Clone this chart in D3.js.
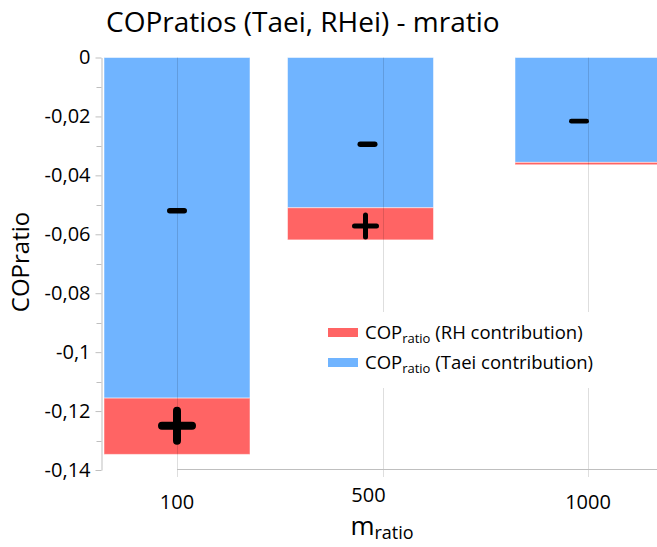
<!DOCTYPE html>
<html>
<head>
<meta charset="utf-8">
<script src="https://cdn.jsdelivr.net/npm/d3@7"></script>
<style>
  html, body { margin: 0; padding: 0; background: #fff; }
  svg { display: block; font-family: "Open Sans", sans-serif; }
</style>
</head>
<body>
<div id="chart"></div>
<script>
// values
var categories = ["100", "500", "1000"];
var taeiContribution = [-0.1156, -0.0510, -0.0356];   // blue part, from 0 down
var rhContribution = [-0.0191, -0.0109, -0.0008];     // red part, stacked under the blue
var minusSignAt = [-0.0520, -0.0294, -0.0216];
var plusSignAt = [-0.1250, -0.0572, null];
var yTicks = [0, -0.02, -0.04, -0.06, -0.08, -0.1, -0.12, -0.14];
var yMinorTicks = [-0.01, -0.03, -0.05, -0.07, -0.09, -0.11, -0.13];

var width = 657, height = 547;
var blue = "#70b4ff", red = "#ff6464";
var gridColor = "rgba(0,0,0,0.13)", axisColor = "#bfbfbf";

// hand placed nudges seen in the picture (the 500 column sits off its tick)
var barWidth = 146;
var barShift = [0, -22, 0];
var minusShift = [0, -15, -9];
var plusShift = [0, -17, 0];
var minusLen = [20, 20, 20], minusWeight = [5.5, 5.5, 4.6];
var plusLen = [38, 27, 0], plusWeight = [8, 5, 0];
var labelShift = [[0, 0], [-14, -7], [0, 0]];

var svg = d3.select("#chart").append("svg")
    .attr("width", width)
    .attr("height", height);

var x = d3.scalePoint().domain(categories).range([177, 588]);
var y = d3.scaleLinear().domain([-0.14, 0]).range([470, 57.5]);

var fmt = function(d) { return d === 0 ? "0" : String(+d.toFixed(2)).replace(".", ","); };

// bars
var rows = categories.map(function(c, i) {
  return { cat: c, i: i, taei: taeiContribution[i], rh: rhContribution[i] };
});

svg.append("g").selectAll("rect.taei").data(rows).join("rect")
    .attr("class", "taei")
    .attr("x", function(d) { return x(d.cat) - barWidth / 2 + barShift[d.i]; })
    .attr("y", y(0))
    .attr("width", barWidth)
    .attr("height", function(d) { return y(d.taei) - y(0); })
    .attr("fill", blue)
    .attr("stroke", "rgba(255,255,255,0.5)")
    .attr("stroke-width", 1);

svg.append("g").selectAll("rect.rh").data(rows).join("rect")
    .attr("class", "rh")
    .attr("x", function(d) { return x(d.cat) - barWidth / 2 + barShift[d.i]; })
    .attr("y", function(d) { return y(d.taei); })
    .attr("width", barWidth)
    .attr("height", function(d) { return y(d.taei + d.rh) - y(d.taei); })
    .attr("fill", red)
    .attr("stroke", "rgba(255,255,255,0.5)")
    .attr("stroke-width", 1);

// vertical grid lines, drawn on top of the bars
svg.append("g").selectAll("line").data(categories).join("line")
    .attr("x1", function(d) { return Math.round(x(d)) + 0.5; })
    .attr("x2", function(d) { return Math.round(x(d)) + 0.5; })
    .attr("y1", y(0))
    .attr("y2", y(-0.14) + 7)
    .attr("stroke", gridColor)
    .attr("stroke-width", 1);

// y axis
var yAxis = svg.append("g")
    .attr("transform", "translate(101.5,0)")
    .call(d3.axisLeft(y).tickValues(yTicks).tickFormat(fmt).tickSize(6).tickSizeOuter(0).tickPadding(5));
yAxis.select(".domain").attr("stroke", axisColor);
yAxis.selectAll(".tick line").attr("stroke", axisColor);
yAxis.selectAll(".tick text")
    .attr("fill", "#000")
    .style("font-size", "20px")
    .style("font-family", "'Open Sans', sans-serif");
yAxis.append("g").selectAll("line").data(yMinorTicks).join("line")
    .attr("x1", -5).attr("x2", 0)
    .attr("y1", function(d) { return Math.round(y(d)) + 0.5; })
    .attr("y2", function(d) { return Math.round(y(d)) + 0.5; })
    .attr("stroke", axisColor);

// x axis
svg.append("line")
    .attr("x1", x("100")).attr("x2", width)
    .attr("y1", 469.5).attr("y2", 469.5)
    .attr("stroke", axisColor);

svg.append("g").selectAll("text").data(rows).join("text")
    .attr("x", function(d) { return x(d.cat) + labelShift[d.i][0]; })
    .attr("y", function(d) { return 509 + labelShift[d.i][1]; })
    .attr("text-anchor", "middle")
    .style("font-size", "20px")
    .text(function(d) { return d.cat; });

// + and - signs
var signs = svg.append("g").attr("stroke", "#000").attr("stroke-linecap", "round").attr("fill", "none");
rows.forEach(function(d) {
  var cx = x(d.cat);
  if (minusSignAt[d.i] !== null) {
    var mx = cx + minusShift[d.i], my = y(minusSignAt[d.i]), h = minusLen[d.i] / 2 - minusWeight[d.i] / 2;
    signs.append("line")
        .attr("x1", mx - h).attr("x2", mx + h)
        .attr("y1", my).attr("y2", my)
        .attr("stroke-width", minusWeight[d.i]);
  }
  if (plusSignAt[d.i] !== null) {
    var px = cx + plusShift[d.i], py = y(plusSignAt[d.i]), k = plusLen[d.i] / 2 - plusWeight[d.i] / 2;
    signs.append("path")
        .attr("d", "M" + (px - k) + "," + py + "H" + (px + k) + "M" + px + "," + (py - k) + "V" + (py + k))
        .attr("stroke-width", plusWeight[d.i]);
  }
});

// legend
var legend = svg.append("g");
legend.append("rect")
    .attr("x", 318).attr("y", 312).attr("width", 284).attr("height", 76)
    .attr("fill", "#fff");
var legendItems = [
  { color: red, label: " (RH contribution)" },
  { color: blue, label: " (Taei contribution)" }
];
legendItems.forEach(function(it, i) {
  var ly = 333 + i * 30;
  legend.append("rect")
      .attr("x", 328).attr("y", ly - 5).attr("width", 30).attr("height", 9)
      .attr("fill", it.color);
  var t = legend.append("text")
      .attr("x", 365).attr("y", ly + 6)
      .style("font-size", "18.5px");
  t.append("tspan").text("COP");
  t.append("tspan").attr("dy", 4).style("font-size", "13px").text("ratio");
  t.append("tspan").attr("dy", -4).text(it.label);
});

// titles
svg.append("text")
    .attr("x", 106).attr("y", 32)
    .style("font-size", "28px")
    .text("COPratios (Taei, RHei) - mratio");

svg.append("text")
    .attr("transform", "translate(29,262) rotate(-90)")
    .attr("text-anchor", "middle")
    .style("font-size", "24px")
    .text("COPratio");

var xt = svg.append("text")
    .attr("x", 382).attr("y", 535)
    .attr("text-anchor", "middle")
    .style("font-size", "26px");
xt.append("tspan").text("m");
xt.append("tspan").attr("dy", 4).style("font-size", "18px").text("ratio");
</script>
</body>
</html>
